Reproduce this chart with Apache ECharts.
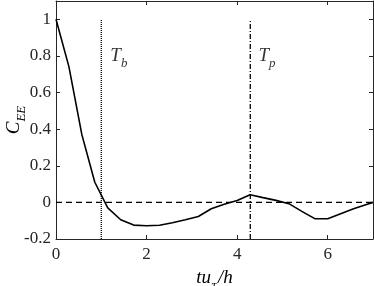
<!DOCTYPE html>
<html><head><meta charset="utf-8">
<script src="https://cdn.jsdelivr.net/npm/echarts@6/dist/echarts.min.js"></script>
<style>html,body{margin:0;padding:0;background:#fff}#c{width:374px;height:286px}</style>
</head><body><div id="c"></div>
<script>
// Data
const tau = [0, 0.286, 0.571, 0.857, 1.143, 1.429, 1.714, 2.0, 2.286, 2.571, 2.857, 3.143, 3.429, 3.714, 4.0, 4.286, 4.571, 4.857, 5.143, 5.429, 5.714, 6.0, 6.286, 6.571, 6.857, 7.0];
const cee = [1.0, 0.74, 0.37, 0.11, -0.03, -0.095, -0.124, -0.128, -0.125, -0.111, -0.095, -0.077, -0.035, -0.01, 0.01, 0.042, 0.026, 0.011, -0.007, -0.049, -0.089, -0.089, -0.062, -0.035, -0.011, 0.0];
const Tb = 1.0;
const Tp = 4.29;
const vlineRange = [-0.2, 1.0];
const zeroLineX = [0, 7];
const annotations = [
  {main: 'T', sub: 'b', x: 1.2, y: 0.8},
  {main: 'T', sub: 'p', x: 4.47, y: 0.8}
];
const xTicks = [0, 2, 4, 6];
const yTicks = [-0.2, 0, 0.2, 0.4, 0.6, 0.8, 1];

const axisColor = '#262626';
const serif = 'Liberation Serif';

const chart = echarts.init(document.getElementById('c'), null, {renderer: 'canvas'});
const fmtY = v => { const r = Math.round(v * 10) / 10; return yTicks.some(t => Math.abs(t - v) < 1e-6) ? String(r) : ''; };
const fmtX = v => xTicks.indexOf(v) >= 0 ? String(v) : '';

const richMath = {
  m: {fontFamily: serif, fontStyle: 'italic', fontSize: 19, color: '#000', lineHeight: 24},
  s: {fontFamily: serif, fontStyle: 'italic', fontSize: 13, color: '#000', verticalAlign: 'bottom', lineHeight: 13, padding: [0, 0, -2, 0]},
  g: {fontFamily: 'DejaVu Serif', fontStyle: 'italic', fontSize: 11, color: '#000', verticalAlign: 'bottom', lineHeight: 13, padding: [0, 1, -2, 0]}
};

chart.setOption({
  animation: false,
  textStyle: {fontFamily: serif},
  grid: {left: 56, right: 1, top: 1, bottom: 47, containLabel: false, outerBoundsMode: 'none'},
  xAxis: [{
    type: 'value', min: 0, max: 7, interval: 2, position: 'bottom',
    splitLine: {show: false},
    axisLine: {show: true, onZero: false, lineStyle: {color: axisColor, width: 1}},
    axisTick: {show: true, inside: true, length: 4, lineStyle: {color: axisColor}},
    axisLabel: {formatter: fmtX, showMaxLabel: false, margin: 7, color: axisColor, fontFamily: serif, fontSize: 17},
    name: '{m|tu}{g|τ}{m|/h}', nameLocation: 'middle', nameGap: 27, nameMoveOverlap: false,
    nameTextStyle: {rich: richMath}
  }, {
    type: 'value', min: 0, max: 7, interval: 2, position: 'top',
    splitLine: {show: false},
    axisLine: {show: true, onZero: false, lineStyle: {color: axisColor, width: 1}},
    axisTick: {show: true, inside: true, length: 4, lineStyle: {color: axisColor}},
    axisLabel: {show: false}
  }],
  yAxis: [{
    type: 'value', min: -0.2, max: 1.1, interval: 0.2, position: 'left',
    splitLine: {show: false},
    axisLine: {show: true, onZero: false, lineStyle: {color: axisColor, width: 1}},
    axisTick: {show: true, inside: true, length: 4, lineStyle: {color: axisColor}},
    axisLabel: {formatter: fmtY, showMaxLabel: false, margin: 5, color: axisColor, fontFamily: serif, fontSize: 17},
    name: '{m|C}{s|EE}', nameLocation: 'middle', nameGap: 30, nameRotate: 90, nameMoveOverlap: false,
    nameTextStyle: {rich: richMath}
  }, {
    type: 'value', min: -0.2, max: 1.1, interval: 0.2, position: 'right',
    splitLine: {show: false},
    axisLine: {show: true, onZero: false, lineStyle: {color: axisColor, width: 1}},
    axisTick: {show: true, inside: true, length: 4, lineStyle: {color: axisColor}},
    axisLabel: {show: false}
  }],
  series: [
    {
      type: 'line', xAxisIndex: 0, yAxisIndex: 0, symbol: 'none', silent: true,
      data: zeroLineX.map(x => [x, 0]),
      lineStyle: {color: '#000', width: 1.3, type: [6, 4]}
    },
    {
      type: 'line', xAxisIndex: 0, yAxisIndex: 0, symbol: 'none', silent: true,
      data: vlineRange.map(y => [Tb, y]),
      lineStyle: {color: '#000', width: 1.3, type: [1, 1]}
    },
    {
      type: 'line', xAxisIndex: 0, yAxisIndex: 0, symbol: 'none', silent: true,
      data: vlineRange.map(y => [Tp, y]),
      lineStyle: {color: '#000', width: 1.3, type: [5, 2, 1, 2]}
    },
    {
      type: 'line', xAxisIndex: 0, yAxisIndex: 0, symbol: 'none', silent: true,
      data: tau.map((t, i) => [t, cee[i]]),
      lineStyle: {color: '#000', width: 1.6}
    },
    {
      type: 'scatter', xAxisIndex: 0, yAxisIndex: 0, symbolSize: 0, silent: true,
      data: annotations.map(a => ({value: [a.x, a.y], label: {formatter: '{m|' + a.main + '}{s|' + a.sub + '}'}})),
      label: {show: true, position: 'right', distance: 0, rich: richMath}
    }
  ]
});
</script>
</body></html>
